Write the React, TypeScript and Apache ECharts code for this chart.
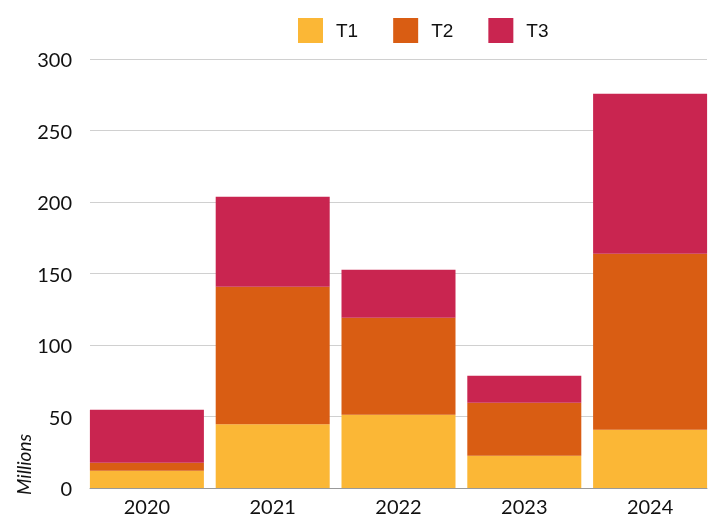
import React, { useEffect, useRef } from "react";
import * as echarts from "echarts";

const years = ["2020", "2021", "2022", "2023", "2024"];
const t1 = [12, 44.5, 51.3, 22.6, 40.8];
const t2 = [5.7, 96.3, 67.8, 37.1, 123];
const t3 = [37.1, 62.9, 33.5, 18.8, 111.9];
const seriesNames = ["T1", "T2", "T3"];
const colors = ["#FBB736", "#D95D13", "#C92550"];
const yMax = 300;
const yStep = 50;

export default function App() {
  const ref = useRef<HTMLDivElement>(null);
  useEffect(() => {
    if (!ref.current) return;
    const chart = echarts.init(ref.current, null, { renderer: "svg" });
    const values = [t1, t2, t3];
    chart.setOption({
      animation: false,
      color: colors,
      legend: {
        data: seriesNames,
        top: 13,
        left: 293,
        itemWidth: 25,
        itemHeight: 25,
        itemGap: 35,
        icon: "rect",
        textStyle: {
          fontFamily: "Liberation Sans",
          fontSize: 19,
          color: "#111",
          padding: [0, 0, 0, 8],
        },
      },
      grid: [
        { left: 84, right: 2, top: 59, bottom: 29 },
        { left: 90, right: 8, top: 59, bottom: 29 },
      ],
      xAxis: [
        {
          type: "category",
          gridIndex: 0,
          data: years,
          axisLine: { show: false },
          axisTick: { show: false },
          axisLabel: {
            fontFamily: "Lato",
            fontSize: 20,
            color: "#111",
            margin: 8,
          },
        },
        {
          type: "value",
          gridIndex: 1,
          min: 0,
          max: 1,
          axisLine: { show: true, lineStyle: { color: "#999", width: 1 } },
          axisTick: { show: false },
          axisLabel: { show: false },
          splitLine: { show: false },
        },
      ],
      yAxis: [
        {
          type: "value",
          gridIndex: 0,
          min: 0,
          max: yMax,
          interval: yStep,
          axisLabel: { show: false },
          axisLine: { show: false },
          axisTick: { show: false },
          splitLine: { show: false },
        },
        {
          type: "value",
          gridIndex: 1,
          min: 0,
          max: yMax,
          interval: yStep,
          axisLine: { show: false },
          axisTick: { show: false },
          axisLabel: {
            fontFamily: "Lato",
            fontSize: 20,
            color: "#111",
            margin: 18,
          },
          splitLine: { lineStyle: { color: "#d0d0d0", width: 1 } },
        },
      ],
      graphic: [
        {
          type: "text",
          x: 23,
          y: 495,
          rotation: Math.PI / 2,
          style: {
            text: "Millions",
            fontFamily: "Lato",
            fontStyle: "italic",
            fontSize: 19,
            fill: "#111",
            textAlign: "left",
            textVerticalAlign: "middle",
          },
        },
      ],
      series: seriesNames.map((name, i) => ({
        name,
        type: "bar",
        stack: "total",
        xAxisIndex: 0,
        yAxisIndex: 0,
        barWidth: 114,
        data: values[i],
        itemStyle: { color: colors[i] },
        z: 3,
      })),
    });
    return () => chart.dispose();
  }, []);
  return (
    <div
      ref={ref}
      style={{ position: "fixed", left: 0, top: 0, width: 715, height: 517 }}
    />
  );
}
